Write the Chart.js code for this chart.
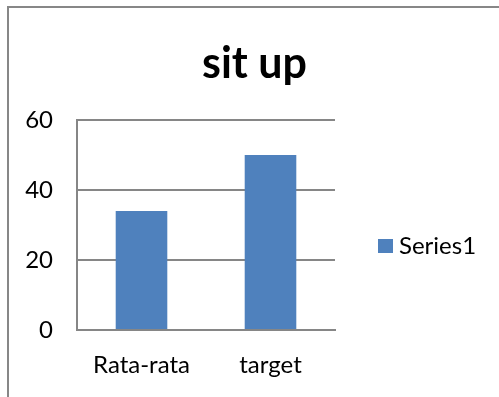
<!DOCTYPE html>
<html lang="en">
<head>
  <meta charset="UTF-8">
  <title>sit up</title>
  <style>
    * {
      margin: 0;
      padding: 0;
      box-sizing: content-box;
    }

    body {
      width: 499px;
      height: 397px;
      overflow: hidden;
      background: #fff;
      position: relative;
    }

    /* chart frame, runs off the right and bottom like the original */
    .frame {
      position: absolute;
      left: 7px;
      top: 6px;
      width: 491px;
      height: 420px;
      border: 2px solid #878787;
    }

    .frame canvas {
      position: absolute;
      left: 0;
      top: 0;
    }
  </style>
</head>
<body>

  <div class="frame">
    <canvas id="situpChart" width="491" height="389"></canvas>
  </div>

  <script src="https://cdn.jsdelivr.net/npm/chart.js"></script>
  <script>
    // Data
    const categories = ['Rata-rata', 'target'];
    const series1 = [34, 50];
    const yMin = 0;
    const yMax = 60;
    const yStep = 20;

    const gridGray = '#868686';
    const fontFamily = 'Lato, "Open Sans", sans-serif';

    Chart.defaults.color = '#000';
    Chart.defaults.font.family = fontFamily;

    // Excel-style legend to the right of the plot (the built-in one gets
    // squeezed by the layout's max box width)
    const sideLegend = {
      id: 'sideLegend',
      afterDraw(chart) {
        const c = chart.ctx;
        const area = chart.chartArea;
        const midY = (area.top + area.bottom) / 2 + 21;
        c.save();
        chart.data.datasets.forEach((ds, i) => {
          const y = midY + i * 30;
          const x = area.right + 43;
          c.fillStyle = ds.backgroundColor;
          c.fillRect(x, y - 7, 15, 14);
          c.fillStyle = '#000';
          c.font = '24px ' + fontFamily;
          c.textBaseline = 'middle';
          c.textAlign = 'left';
          c.fillText(ds.label, x + 21, y);
        });
        c.restore();
      }
    };

    const ctx = document.getElementById('situpChart').getContext('2d');
    const situpChart = new Chart(ctx, {
      type: 'bar',
      data: {
        labels: categories,
        datasets: [
          {
            label: 'Series1',
            data: series1,
            backgroundColor: '#4F81BD',
            borderWidth: 0,
            categoryPercentage: 0.4,
            barPercentage: 1.0
          }
        ]
      },
      options: {
        responsive: false,
        animation: false,
        layout: { padding: 0 },
        plugins: {
          title: {
            display: true,
            text: 'sit up',
            font: { size: 43, weight: 'bold' },
            padding: { top: 30, bottom: 30.4 }
          },
          legend: { display: false },
          tooltip: { enabled: false }
        },
        scales: {
          x: {
            grid: { display: false, drawTicks: false },
            border: { display: true, color: gridGray, width: 2 },
            ticks: { padding: 21, font: { size: 24 } },
            afterFit: (s) => { s.height = 67; }
          },
          y: {
            min: yMin,
            max: yMax,
            ticks: { stepSize: yStep, padding: 24, font: { size: 24 } },
            grid: { color: gridGray, lineWidth: 2, drawTicks: false },
            border: { display: true, color: gridGray, width: 2 },
            afterFit: (s) => { s.width = 68; }
          },
          // room for the legend on the right
          legendRoom: {
            type: 'linear',
            position: 'right',
            display: true,
            grid: { display: false, drawTicks: false },
            border: { display: false },
            ticks: { display: false },
            afterFit: (s) => { s.width = 165; }
          }
        }
      },
      plugins: [sideLegend]
    });
  </script>

</body>
</html>
